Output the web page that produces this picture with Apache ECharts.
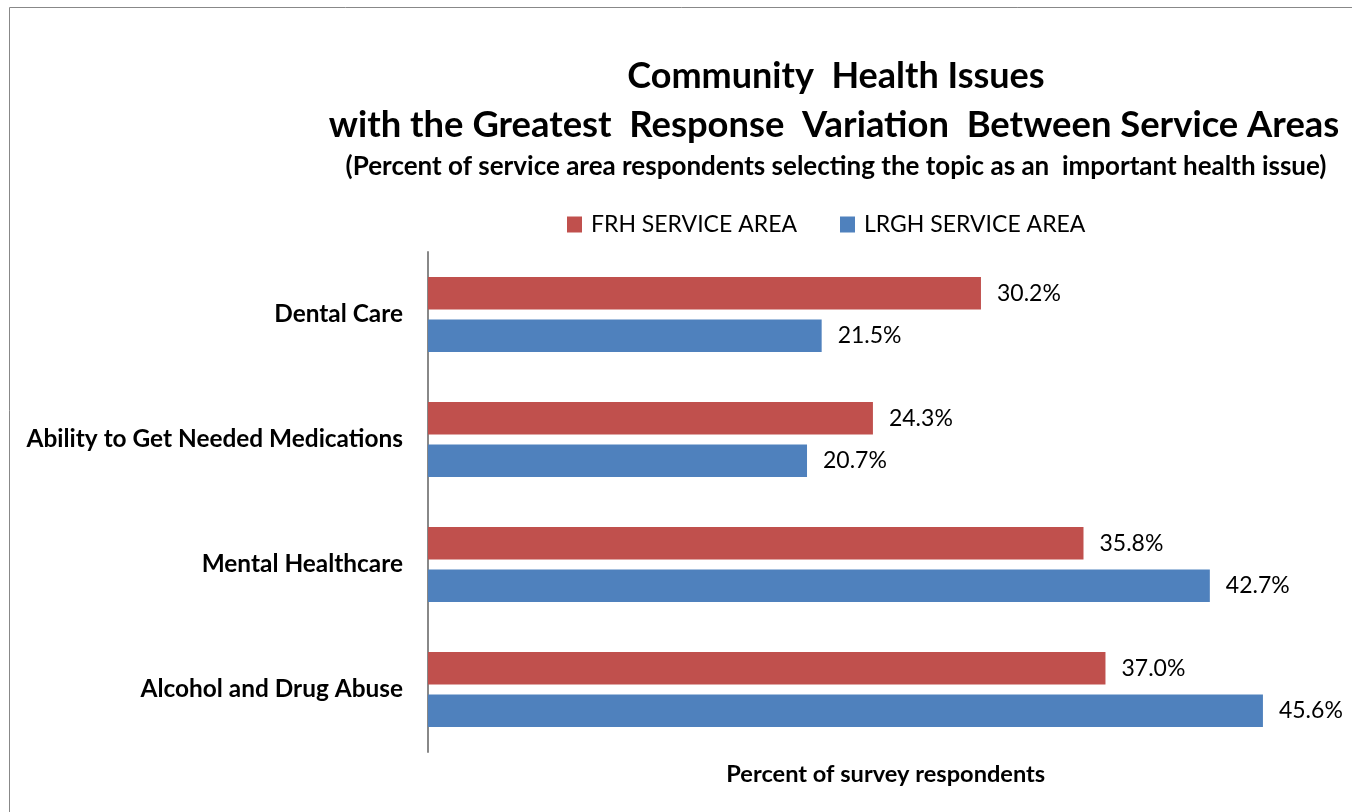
<!DOCTYPE html>
<html>
<head>
<meta charset="utf-8">
<script src="https://cdn.jsdelivr.net/npm/echarts@6/dist/echarts.min.js"></script>
<style>html,body{margin:0;padding:0;background:#fff}#c{width:1352px;height:812px}</style>
</head>
<body>
<div id="c"></div>
<script>
const categories = ['Dental Care', 'Ability to Get Needed Medications', 'Mental Healthcare', 'Alcohol and Drug Abuse'];
const frhValues = [30.2, 24.3, 35.8, 37.0];
const lrghValues = [21.5, 20.7, 42.7, 45.6];
const seriesNames = ['FRH SERVICE AREA', 'LRGH SERVICE AREA'];
const titleLines = ['Community  Health Issues', 'with the Greatest  Response  Variation  Between Service Areas', '(Percent of service area respondents selecting the topic as an  important health issue)'];
const axisName = 'Percent of survey respondents';

const FONT = 'Lato, "Open Sans", sans-serif';
const chart = echarts.init(document.getElementById('c'));
chart.setOption({
  animation: false,
  backgroundColor: '#fff',
  graphic: [{
    type: 'rect', shape: {x: 9.5, y: 7.5, width: 1400, height: 900},
    style: {fill: 'none', stroke: '#888', lineWidth: 1}, silent: true
  }],
  title: [
    {text: titleLines[0], left: 831, top: 53, textAlign: 'center', textStyle: {fontFamily: FONT, fontSize: 36, fontWeight: 'bold', color: '#000'}},
    {text: titleLines[1], left: 829, top: 102, textAlign: 'center', textStyle: {fontFamily: FONT, fontSize: 36.4, fontWeight: 'bold', color: '#000'}},
    {text: titleLines[2], left: 831, top: 149, textAlign: 'center', textStyle: {fontFamily: FONT, fontSize: 26, fontWeight: 'bold', color: '#000'}}
  ],
  legend: {
    data: seriesNames, left: 562, top: 208, itemWidth: 15, itemHeight: 16, itemGap: 43,
    icon: 'rect',
    textStyle: {fontFamily: FONT, fontSize: 23, color: '#000', padding: [0, 0, 0, 4]}
  },
  grid: {left: 428, right: 8.5, top: 252, bottom: 60, containLabel: false},
  xAxis: {
    type: 'value', min: 0, max: 50,
    axisLine: {show: false}, axisTick: {show: false}, axisLabel: {show: false}, splitLine: {show: false},
    name: axisName, nameLocation: 'middle', nameGap: 10,
    nameTextStyle: {fontFamily: FONT, fontSize: 23.6, fontWeight: 'bold', color: '#000'}
  },
  yAxis: {
    type: 'category', data: categories, inverse: true,
    axisLine: {show: true, lineStyle: {color: '#888', width: 2}},
    axisTick: {show: false},
    axisLabel: {margin: 25, fontFamily: FONT, fontSize: 24.4, fontWeight: 'bold', color: '#000'}
  },
  series: [
    {name: seriesNames[0], type: 'bar', data: frhValues, barWidth: 32.5, barGap: '31%',
     itemStyle: {color: '#C0504D'},
     label: {show: true, position: 'right', distance: 16, fontFamily: FONT, fontSize: 23, color: '#000', formatter: p => p.value.toFixed(1) + '%'}},
    {name: seriesNames[1], type: 'bar', data: lrghValues, barWidth: 32.5, barGap: '31%',
     itemStyle: {color: '#4F81BD'},
     label: {show: true, position: 'right', distance: 16, fontFamily: FONT, fontSize: 23, color: '#000', formatter: p => p.value.toFixed(1) + '%'}}
  ]
});
</script>
</body>
</html>
